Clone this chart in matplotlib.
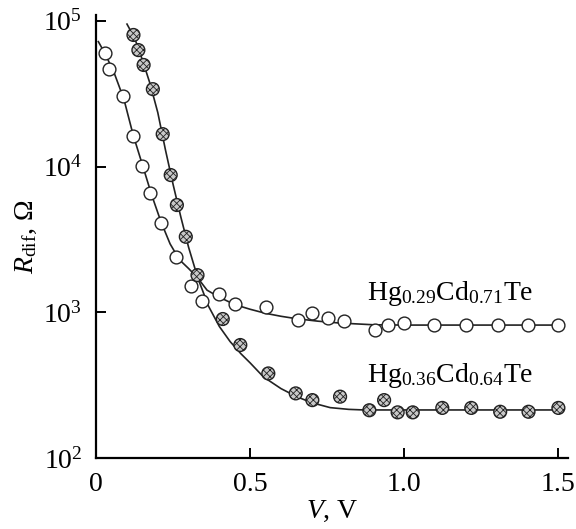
import numpy as np
import matplotlib
matplotlib.use('Agg')
import matplotlib.pyplot as plt
from matplotlib.ticker import LogFormatterMathtext, NullLocator

plt.rcParams['font.family'] = 'Liberation Serif'
plt.rcParams['mathtext.fontset'] = 'custom'
plt.rcParams['mathtext.rm'] = 'Liberation Serif'
plt.rcParams['mathtext.it'] = 'Liberation Serif:italic'
plt.rcParams['hatch.color'] = '#444444'
plt.rcParams['hatch.linewidth'] = 0.6

# Hg0.29Cd0.71Te, open circles
v_open = [0.029, 0.043, 0.087, 0.120, 0.150, 0.174, 0.211, 0.260, 0.308, 0.342,
          0.400, 0.452, 0.551, 0.655, 0.702, 0.754, 0.806, 0.904, 0.949, 1.001,
          1.098, 1.201, 1.304, 1.401, 1.501]
r_open = [6.0e4, 4.65e4, 3.07e4, 1.63e4, 1.01e4, 6.6e3, 4.08e3, 2.41e3, 1.51e3, 1.20e3,
          1.33e3, 1.14e3, 1.09e3, 885, 984, 910, 872, 757, 818, 841,
          818, 818, 818, 818, 818]

# Hg0.36Cd0.64Te, hatched circles
v_hat = [0.121, 0.137, 0.154, 0.184, 0.216, 0.242, 0.262, 0.291, 0.329, 0.411,
         0.468, 0.559, 0.648, 0.702, 0.792, 0.887, 0.935, 0.979, 1.028, 1.124,
         1.218, 1.312, 1.404, 1.501]
r_hat = [8.0e4, 6.3e4, 4.98e4, 3.40e4, 1.67e4, 8.75e3, 5.45e3, 3.30e3, 1.80e3, 900,
         597, 381, 278, 250, 264, 213, 250, 206, 206, 221,
         221, 208, 208, 221]

# fitted curves
v_fit_open = [0.007, 0.03, 0.06, 0.09, 0.12, 0.15, 0.18, 0.21, 0.24, 0.27, 0.30,
              0.33, 0.36, 0.40, 0.45, 0.50, 0.55, 0.60, 0.65, 0.72, 0.79, 0.90, 1.0, 1.5]
r_fit_open = [7.2e4, 5.9e4, 4.3e4, 2.9e4, 1.65e4, 1.03e4, 6.4e3, 4.2e3, 2.95e3, 2.3e3, 2.0e3,
              1.72e3, 1.42e3, 1.27e3, 1.13e3, 1.05e3, 985, 940, 905, 870, 845, 822, 818, 818]

v_fit_hat = [0.10, 0.125, 0.15, 0.175, 0.20, 0.225, 0.25, 0.275, 0.30, 0.33, 0.365,
             0.40, 0.435, 0.47, 0.50, 0.543, 0.60, 0.651, 0.70, 0.76, 0.82, 0.87, 1.0, 1.5]
r_fit_hat = [9.5e4, 7.6e4, 5.4e4, 3.7e4, 2.35e4, 1.3e4, 7.5e3, 4.5e3, 2.8e3, 1.72e3, 1.10e3,
             800, 630, 520, 450, 361, 300, 264, 240, 222, 216, 214, 214, 214]

fig = plt.figure(figsize=(5.76, 5.29), dpi=100)
ax = fig.add_axes([0.167, 0.134, 0.819, 0.838])

ax.plot(v_fit_open, r_fit_open, color='#222222', lw=1.2, zorder=1)
ax.plot(v_fit_hat, r_fit_hat, color='#222222', lw=1.2, zorder=1)
ax.scatter(v_open, r_open, s=85, facecolor='white', edgecolor='#222222', linewidth=1.0, zorder=3)
ax.scatter(v_hat, r_hat, s=85, facecolor='#c8c8c8', edgecolor='#222222', linewidth=1.0,
           hatch='xxxxx', zorder=3)

ax.set_yscale('log')
ax.set_xlim(0, 1.532)
ax.set_ylim(100, 1.1e5)
ax.set_xticks([0, 0.5, 1.0, 1.5])
ax.set_xticklabels(['0', '0.5', '1.0', '1.5'])
ax.set_yticks([1e2, 1e3, 1e4, 1e5])
ax.yaxis.set_major_formatter(LogFormatterMathtext())
ax.yaxis.set_minor_locator(NullLocator())

for s in ['top', 'right']:
    ax.spines[s].set_visible(False)
for s in ['left', 'bottom']:
    ax.spines[s].set_linewidth(1.6)
ax.tick_params(direction='in', length=7, width=1.4, labelsize=20, pad=10)

ax.set_xlabel(r'$V$, V', fontsize=20, labelpad=1)
ax.set_ylabel(r'$R_{\rm dif}$, Ω', fontsize=20, labelpad=3)

ax.text(0.88, 1.21e3, r'Hg$_{0.29}$Cd$_{0.71}$Te', fontsize=20, va='baseline')
ax.text(0.88, 3.33e2, r'Hg$_{0.36}$Cd$_{0.64}$Te', fontsize=20, va='baseline')

plt.savefig('out.png', dpi=100)
